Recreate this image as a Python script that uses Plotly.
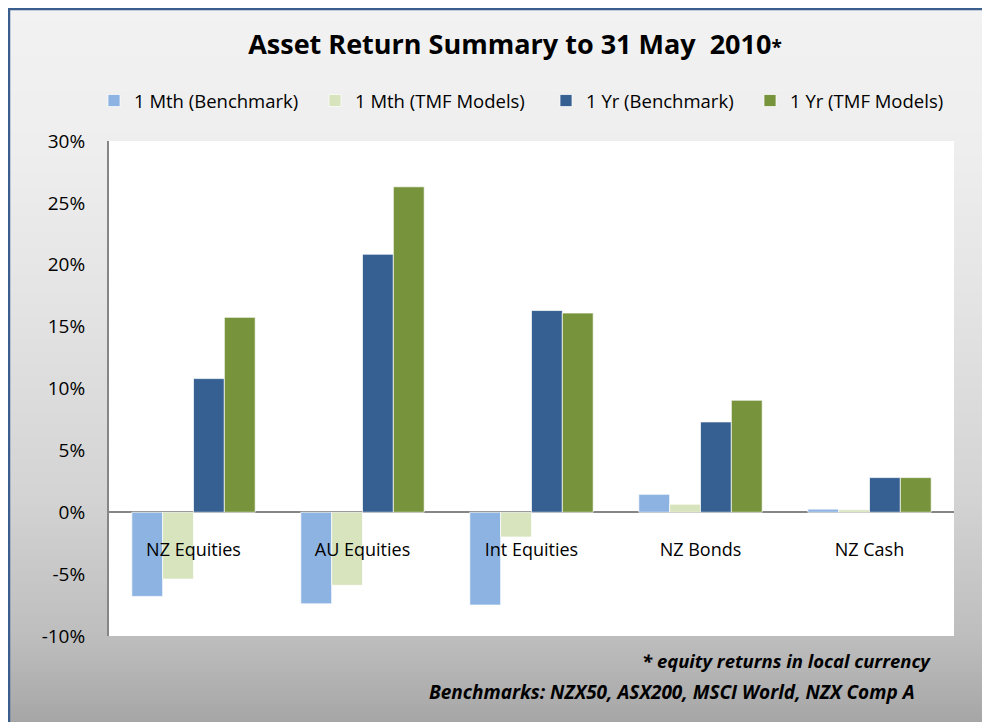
import plotly.graph_objects as go

# Chart data (percent returns to 31 May 2010)
categories = ["NZ Equities", "AU Equities", "Int Equities", "NZ Bonds", "NZ Cash"]
mth_benchmark = [-6.8, -7.4, -7.5, 1.45, 0.25]
mth_tmf = [-5.4, -5.9, -2.0, 0.65, 0.2]
yr_benchmark = [10.8, 20.85, 16.3, 7.3, 2.8]
yr_tmf = [15.75, 26.3, 16.1, 9.05, 2.8]

series_names = ["1 Mth (Benchmark)", "1 Mth (TMF Models)", "1 Yr (Benchmark)", "1 Yr (TMF Models)"]
series_colors = ["#8DB3E2", "#D7E4BD", "#376092", "#77933C"]
y_ticks = [-10, -5, 0, 5, 10, 15, 20, 25, 30]
y_tick_labels = ["-10%", "-5%", "0%", "5%", "10%", "15%", "20%", "25%", "30%"]

# the page body has an 8px margin, so the figure is a bit smaller than the window
OFF = 8
W, H = 990 - OFF, 722 - OFF
# plot area in window pixels
PL, PR, PT, PB = 109, 954, 141, 636
ML, MR, MT, MB = PL - OFF, 990 - PR, PT - OFF, 722 - PB
PW, PH = PR - PL, PB - PT

FONT = "Open Sans"


def px_x(x):
    # window pixel -> paper x
    return (x - PL) / PW


def px_y(y):
    # window pixel (from top) -> paper y
    return (PB - y) / PH


fig = go.Figure()

legend_ids = ["legend", "legend2", "legend3", "legend4"]
legend_left = [94, 315, 546, 750]   # window px, one legend box per series

for name, vals, col, lg in zip(series_names, [mth_benchmark, mth_tmf, yr_benchmark, yr_tmf],
                               series_colors, legend_ids):
    fig.add_trace(go.Bar(
        x=categories, y=vals, name=name, legend=lg,
        marker=dict(color=col, line=dict(color="rgba(255,255,255,0.7)", width=1)),
    ))

# gradient background built from thin strips (grey fades downwards)
stops = [(0, 0xF2), (150, 0xEE), (300, 0xE4), (500, 0xD3), (640, 0xBD), (722, 0xA6)]


def grey_at(y):
    for (y0, c0), (y1, c1) in zip(stops[:-1], stops[1:]):
        if y0 <= y <= y1:
            return round(c0 + (c1 - c0) * (y - y0) / (y1 - y0))
    return stops[-1][1]


shapes = []
step = 4
for y in range(OFF, 722, step):
    g = grey_at(y + step / 2)
    shapes.append(dict(
        type="rect", xref="paper", yref="paper", layer="below",
        x0=px_x(OFF - 2), x1=px_x(1000), y0=px_y(y + step + 1), y1=px_y(y),
        fillcolor=f"rgb({g},{g},{g})", line=dict(width=0),
    ))
# white plot area
shapes.append(dict(
    type="rect", xref="paper", yref="paper", layer="below",
    x0=0, x1=1, y0=0, y1=1, fillcolor="white", line=dict(width=0),
))
# dark blue frame (only top/left visible in the crop)
shapes.append(dict(
    type="rect", xref="paper", yref="paper", layer="below",
    x0=px_x(OFF + 1), x1=px_x(1020), y0=px_y(760), y1=px_y(OFF + 1),
    fillcolor="rgba(0,0,0,0)", line=dict(color="#3A5F8F", width=2.5),
))

legends = {}
for lg, left in zip(legend_ids, legend_left):
    legends[lg] = dict(
        orientation="h",
        xref="container", x=(left - OFF) / W, xanchor="left",
        yref="container", y=1 - (101 - OFF) / H, yanchor="middle",
        bgcolor="rgba(0,0,0,0)",
        font=dict(family=FONT, size=18.5),
        itemclick=False, itemdoubleclick=False,
    )

fig.update_layout(
    width=W, height=H,
    margin=dict(l=ML, r=MR, t=MT, b=MB, autoexpand=False),
    paper_bgcolor="white",
    plot_bgcolor="white",
    barmode="group",
    bargap=0.27,
    bargroupgap=0,
    font=dict(family=FONT, size=16, color="#000000"),
    title=dict(
        text="<b>Asset Return Summary to 31 May  2010<span style='font-size:19px'>*</span></b>",
        x=px_x(515), xref="paper", xanchor="center",
        y=1 - (45 - OFF) / H, yref="container", yanchor="middle",
        font=dict(family=FONT, size=27, color="#000000"),
    ),
    shapes=shapes,
    showlegend=True,
    **legends,
)

fig.update_yaxes(
    range=[-10, 30], tickvals=y_ticks, ticktext=y_tick_labels,
    showgrid=False, showline=True, linecolor="#868686", linewidth=2,
    zeroline=True, zerolinecolor="#868686", zerolinewidth=2,
    ticks="", ticklabelstandoff=18, automargin=False,
    tickfont=dict(family=FONT, size=19),
)
fig.update_xaxes(
    anchor="free", position=0.25,
    showline=False, showgrid=False, ticks="",
    ticklabelstandoff=25, automargin=False,
    tickfont=dict(family=FONT, size=18),
)

fig.add_annotation(
    text="<b><i>* equity returns in local currency</i></b>",
    xref="paper", yref="paper", x=px_x(933), y=px_y(660),
    xanchor="right", yanchor="middle", showarrow=False,
    font=dict(family=FONT, size=18.5),
)
fig.add_annotation(
    text="<b><i>Benchmarks: NZX50, ASX200, MSCI World, NZX Comp A</i></b>",
    xref="paper", yref="paper", x=px_x(917), y=px_y(692),
    xanchor="right", yanchor="middle", showarrow=False,
    font=dict(family=FONT, size=19),
)

fig.write_html("out.html")
